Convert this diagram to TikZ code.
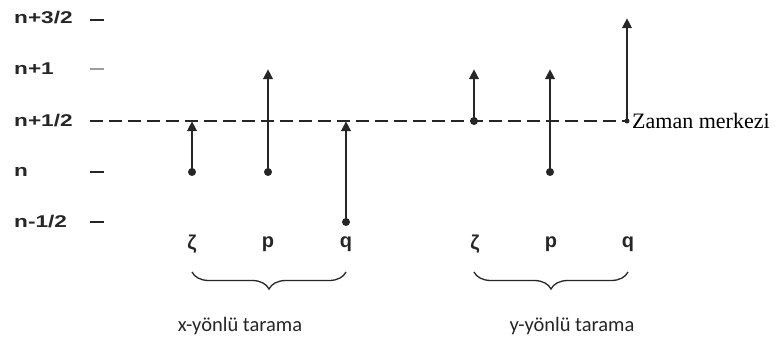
\documentclass[tikz,border=0pt]{standalone}
\usepackage{fontspec}
\setmainfont{Liberation Serif}
\newfontfamily\axfont{Liberation Sans}
\newfontfamily\calfont{Carlito}
\usetikzlibrary{arrows.meta,decorations.pathreplacing}
\definecolor{ln}{HTML}{262626}
\tikzset{
  axlab/.style={anchor=west,inner sep=0pt,text=ln,font=\axfont\bfseries\fontsize{17}{17}\selectfont},
  tick/.style={line width=2.4pt,draw=ln},
  vec/.style={line width=2.4pt,draw=ln,-{Triangle[length=10pt,width=9.5pt]}},
  dot/.style={circle,fill=ln,inner sep=0pt,minimum size=8pt},
  pt/.style={inner sep=0pt,minimum size=0pt},
  letter/.style={inner sep=0pt,text=ln,font=\axfont\bfseries\fontsize{20}{20}\selectfont},
  scan/.style={inner sep=0pt,text=ln,font=\calfont\fontsize{20.5}{20.5}\selectfont},
  brc/.style={draw=ln,line width=1.3pt,decorate,decoration={brace,mirror,amplitude=17pt}},
}
\begin{document}
\begin{tikzpicture}[x=1pt,y=-1pt]
\useasboundingbox (0,0) rectangle (777,340);
% axis labels
\node[axlab] (a1) at (14,18) {\scalebox{1.33}[1]{n+3/2}};
\node[axlab] (a2) at (14,69) {\scalebox{1.33}[1]{n+1}};
\node[axlab] (a3) at (14,121) {\scalebox{1.33}[1]{n+1/2}};
\node[axlab] (a4) at (14,172) {\scalebox{1.33}[1]{n}};
\node[axlab] (a5) at (14,222) {\scalebox{1.33}[1]{n-1/2}};
% ticks
\coordinate (t1a) at (90,20); \coordinate (t1b) at (104,20);
\coordinate (t2a) at (90,69); \coordinate (t2b) at (104,69);
\coordinate (t4a) at (90,172); \coordinate (t4b) at (104,172);
\coordinate (t5a) at (90,222); \coordinate (t5b) at (104,222);
\draw[tick] (t1a) -- (t1b);
\draw[line width=1.5pt,draw=ln!45] (t2a) -- (t2b);
\draw[tick] (t4a) -- (t4b);
\draw[tick] (t5a) -- (t5b);
% dashed time-centre line
\coordinate (d0) at (90,121);
\coordinate (d1) at (626,121);
\draw[line width=2.4pt,draw=ln,dash pattern=on 13pt off 6pt] (d0) -- (d1);
% x-direction sweep
\node[dot] (xz0) at (192,172) {}; \node[pt] (xz1) at (192,121) {};
\node[dot] (xp0) at (268,172) {}; \node[pt] (xp1) at (268,69) {};
\node[dot] (xq0) at (346,222) {}; \node[pt] (xq1) at (346,121) {};
\draw[vec] (xz0.center) -- (xz1);
\draw[vec] (xp0.center) -- (xp1);
\draw[vec] (xq0.center) -- (xq1);
% y-direction sweep
\node[dot] (yz0) at (474,121) {}; \node[pt] (yz1) at (474,69) {};
\node[dot] (yp0) at (550,172) {}; \node[pt] (yp1) at (550,69) {};
\node[dot,minimum size=5pt] (yq0) at (627,121) {}; \node[pt] (yq1) at (627,18) {};
\draw[vec] (yz0.center) -- (yz1);
\draw[vec] (yp0.center) -- (yp1);
\draw[vec,line width=2pt] (yq0.center) -- (yq1);
\node[anchor=west,inner sep=0pt,font=\fontsize{22}{22}\selectfont] (zm) at (632,121) {Zaman merkezi};
% letters
\node[letter] (lz1) at (192,244) {ζ};
\node[letter] (lp1) at (268,244) {p};
\node[letter] (lq1) at (346,244) {q};
\node[letter] (lz2) at (475,244) {ζ};
\node[letter] (lp2) at (551,244) {p};
\node[letter] (lq2) at (628,244) {q};
% braces
\coordinate (b1a) at (192,272); \coordinate (b1b) at (346,272);
\coordinate (b2a) at (474,272); \coordinate (b2b) at (628,272);
\draw[brc] (b1a) -- (b1b);
\draw[brc] (b2a) -- (b2b);
\node[scan] (sx) at (240,326) {x-yönlü tarama};
\node[scan] (sy) at (572,326) {y-yönlü tarama};
\end{tikzpicture}
\end{document}
